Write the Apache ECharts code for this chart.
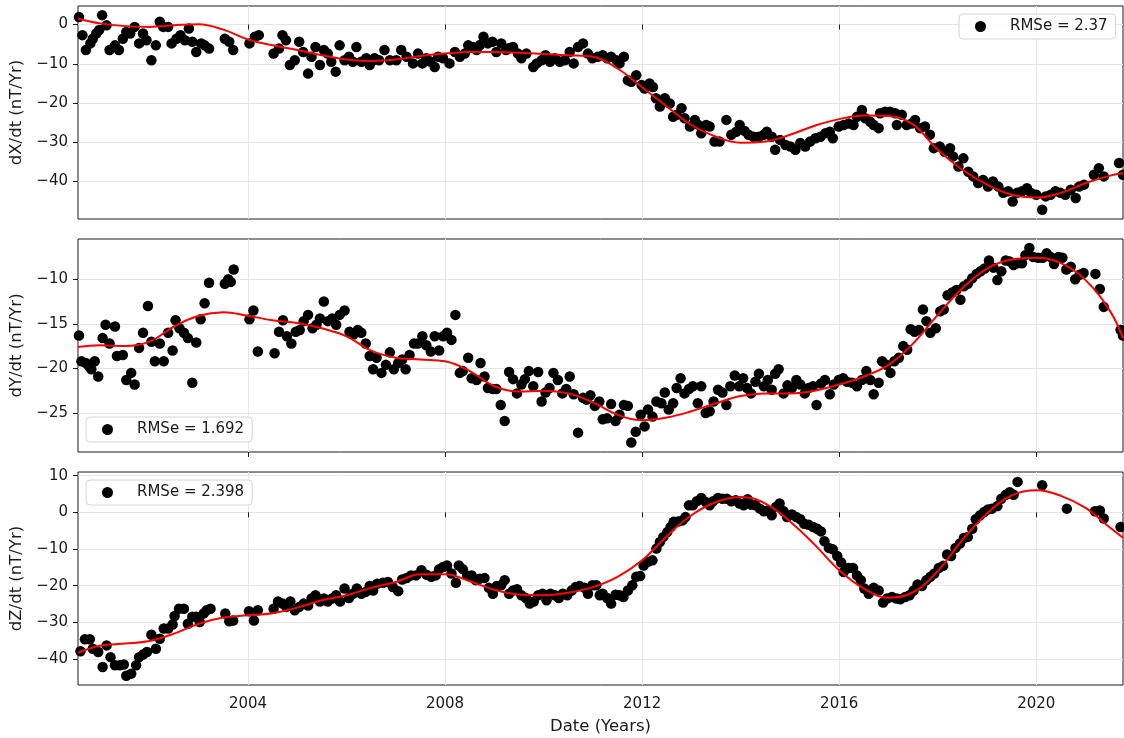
<!DOCTYPE html>
<html>
<head>
<meta charset="utf-8">
<title>Secular variation: dX/dt, dY/dt, dZ/dt</title>
<script src="https://cdn.jsdelivr.net/npm/echarts@6.0.0/dist/echarts.min.js"></script>
<style>
  html, body { margin: 0; padding: 0; background: #ffffff; }
  #chart { width: 1124px; height: 738px; }
</style>
</head>
<body>
<div id="chart"></div>
<script>
// ---- observed secular variation, dX/dt (nT/yr) ----
const dxYears = [
  2000.57, 2000.64, 2000.71, 2000.80, 2000.85, 2000.92, 2000.98, 2001.04, 2001.13, 2001.19,
  2001.30, 2001.38, 2001.46, 2001.53, 2001.61, 2001.70, 2001.79, 2001.87, 2001.94, 2002.04,
  2002.13, 2002.21, 2002.28, 2002.38, 2002.45, 2002.55, 2002.63, 2002.72, 2002.80, 2002.87,
  2002.95, 2003.05, 2003.12, 2003.21, 2003.53, 2003.62, 2003.70, 2004.03, 2004.14, 2004.22,
  2004.52, 2004.63, 2004.70, 2004.77, 2004.85, 2004.95, 2005.04, 2005.12, 2005.22, 2005.29,
  2005.37, 2005.46, 2005.54, 2005.62, 2005.69, 2005.78, 2005.86, 2005.96, 2006.05, 2006.13,
  2006.20, 2006.30, 2006.40, 2006.47, 2006.54, 2006.57, 2006.66, 2006.77, 2006.88, 2007.01,
  2007.11, 2007.22, 2007.35, 2007.45, 2007.54, 2007.62, 2007.70, 2007.79, 2007.86, 2007.96,
  2008.09, 2008.20, 2008.30, 2008.40, 2008.47, 2008.57, 2008.64, 2008.71, 2008.78, 2008.87,
  2008.96, 2009.04, 2009.14, 2009.24, 2009.31, 2009.38, 2009.48, 2009.55, 2009.65, 2009.79,
  2009.86, 2009.96, 2010.04, 2010.13, 2010.23, 2010.33, 2010.43, 2010.53, 2010.61, 2010.70,
  2010.80, 2010.90, 2010.99, 2011.10, 2011.20, 2011.29, 2011.37, 2011.48, 2011.54, 2011.63,
  2011.71, 2011.78, 2011.88, 2011.99, 2012.05, 2012.15, 2012.22, 2012.28, 2012.36, 2012.46,
  2012.56, 2012.63, 2012.70, 2012.80, 2012.86, 2012.97, 2013.07, 2013.13, 2013.20, 2013.30,
  2013.37, 2013.47, 2013.57, 2013.71, 2013.81, 2013.91, 2013.98, 2014.08, 2014.16, 2014.26,
  2014.37, 2014.47, 2014.53, 2014.63, 2014.70, 2014.80, 2014.91, 2015.01, 2015.11, 2015.21,
  2015.31, 2015.41, 2015.52, 2015.62, 2015.72, 2015.81, 2015.87, 2015.99, 2016.09, 2016.19,
  2016.29, 2016.36, 2016.46, 2016.53, 2016.63, 2016.70, 2016.80, 2016.83, 2016.93, 2017.03,
  2017.14, 2017.17, 2017.27, 2017.37, 2017.47, 2017.54, 2017.64, 2017.74, 2017.84, 2017.92,
  2018.04, 2018.14, 2018.25, 2018.31, 2018.42, 2018.52, 2018.62, 2018.72, 2018.82, 2018.92,
  2019.02, 2019.12, 2019.23, 2019.33, 2019.43, 2019.52, 2019.61, 2019.71, 2019.81, 2019.89,
  2020.00, 2020.12, 2020.19, 2020.29, 2020.39, 2020.49, 2020.59, 2020.70, 2020.80, 2020.87,
  2020.97, 2021.17, 2021.27, 2021.37, 2021.68, 2021.76
];
const dxValues = [
  1.9, -2.7, -6.5, -4.8, -3.6, -2.3, -1.4, 2.4, -0.2, -6.5,
  -5.3, -6.5, -3.6, -1.9, -2.3, -0.6, -4.8, -2.3, -4.0, -9.1,
  -5.3, 0.7, -0.6, -0.6, -4.8, -3.6, -2.7, -4.0, -1.0, -4.4,
  -7.0, -4.8, -5.3, -6.1, -3.6, -4.4, -6.5, -4.8, -3.1, -2.7,
  -7.4, -6.1, -2.7, -4.0, -10.3, -9.1, -4.4, -7.0, -12.5, -8.2,
  -5.7, -10.3, -6.5, -7.4, -9.5, -12.0, -5.3, -9.1, -8.2, -9.5,
  -5.7, -9.5, -8.6, -10.3, -9.1, -8.6, -9.1, -6.5, -9.1, -9.1,
  -6.5, -8.2, -9.9, -7.4, -9.9, -8.6, -9.4, -10.8, -8.2, -8.6,
  -9.9, -7.0, -8.2, -7.4, -5.3, -5.7, -6.5, -5.2, -3.1, -4.8,
  -4.4, -7.0, -4.8, -6.5, -6.0, -5.7, -7.4, -8.6, -7.4, -10.8,
  -9.9, -9.1, -7.8, -9.5, -8.6, -9.5, -9.1, -7.0, -9.9, -5.7,
  -4.8, -7.4, -8.6, -8.2, -7.8, -8.6, -8.2, -9.1, -9.9, -8.2,
  -14.2, -14.6, -12.9, -15.4, -16.3, -15.0, -15.9, -18.8, -20.9, -18.8,
  -20.1, -23.5, -23.0, -21.3, -23.9, -26.0, -24.3, -25.5, -27.7, -25.6,
  -26.0, -29.8, -29.8, -24.3, -28.1, -27.3, -25.6, -27.1, -28.1, -28.6,
  -28.6, -28.1, -27.3, -28.6, -31.9, -29.4, -30.7, -31.1, -31.9, -30.2,
  -31.1, -29.8, -29.0, -28.6, -27.7, -27.3, -29.0, -26.0, -25.6, -25.2,
  -25.6, -23.5, -21.8, -23.9, -24.8, -25.6, -26.4, -22.6, -22.2, -22.2,
  -22.6, -25.6, -23.0, -25.6, -25.2, -24.3, -26.4, -26.0, -28.1, -31.5,
  -31.1, -32.4, -31.5, -33.6, -36.2, -34.1, -37.5, -38.7, -40.4, -39.6,
  -41.3, -40.0, -41.3, -42.9, -42.5, -45.1, -42.9, -42.5, -41.7, -42.9,
  -43.4, -47.2, -43.8, -43.4, -42.5, -42.9, -43.4, -42.1, -44.2, -41.3,
  -40.8, -38.3, -36.6, -38.7, -35.3, -38.3
];

// ---- observed secular variation, dY/dt (nT/yr) ----
const dyYears = [
  2000.57, 2000.62, 2000.71, 2000.78, 2000.82, 2000.89, 2000.96, 2001.05, 2001.11, 2001.19,
  2001.30, 2001.34, 2001.46, 2001.53, 2001.63, 2001.70, 2001.79, 2001.87, 2001.97, 2002.04,
  2002.11, 2002.21, 2002.29, 2002.38, 2002.47, 2002.53, 2002.61, 2002.70, 2002.78, 2002.87,
  2002.95, 2003.04, 2003.12, 2003.21, 2003.53, 2003.60, 2003.65, 2003.71, 2004.03, 2004.11,
  2004.20, 2004.54, 2004.63, 2004.71, 2004.79, 2004.88, 2004.97, 2005.05, 2005.13, 2005.22,
  2005.31, 2005.39, 2005.46, 2005.54, 2005.62, 2005.71, 2005.79, 2005.86, 2005.96, 2006.06,
  2006.14, 2006.23, 2006.30, 2006.39, 2006.47, 2006.54, 2006.61, 2006.71, 2006.80, 2006.88,
  2006.96, 2007.05, 2007.13, 2007.20, 2007.28, 2007.37, 2007.45, 2007.54, 2007.62, 2007.71,
  2007.79, 2007.88, 2007.96, 2008.04, 2008.13, 2008.21, 2008.30, 2008.36, 2008.47, 2008.54,
  2008.64, 2008.72, 2008.80, 2008.87, 2008.97, 2009.04, 2009.13, 2009.21, 2009.30, 2009.38,
  2009.46, 2009.55, 2009.62, 2009.70, 2009.79, 2009.89, 2009.96, 2010.04, 2010.12, 2010.20,
  2010.29, 2010.38, 2010.46, 2010.53, 2010.61, 2010.70, 2010.80, 2010.87, 2010.95, 2011.04,
  2011.13, 2011.20, 2011.29, 2011.37, 2011.46, 2011.54, 2011.63, 2011.71, 2011.78, 2011.87,
  2011.97, 2012.05, 2012.12, 2012.21, 2012.29, 2012.39, 2012.46, 2012.54, 2012.63, 2012.70,
  2012.78, 2012.86, 2012.95, 2013.03, 2013.13, 2013.20, 2013.29, 2013.37, 2013.45, 2013.54,
  2013.63, 2013.71, 2013.79, 2013.88, 2013.97, 2014.05, 2014.13, 2014.21, 2014.30, 2014.37,
  2014.47, 2014.55, 2014.63, 2014.70, 2014.77, 2014.87, 2014.95, 2015.04, 2015.13, 2015.21,
  2015.30, 2015.38, 2015.47, 2015.54, 2015.63, 2015.71, 2015.81, 2015.89, 2015.99, 2016.08,
  2016.16, 2016.26, 2016.36, 2016.46, 2016.55, 2016.63, 2016.70, 2016.80, 2016.87, 2016.96,
  2017.04, 2017.12, 2017.21, 2017.30, 2017.38, 2017.45, 2017.53, 2017.62, 2017.70, 2017.77,
  2017.85, 2017.96, 2018.05, 2018.12, 2018.20, 2018.29, 2018.38, 2018.46, 2018.53, 2018.61,
  2018.70, 2018.79, 2018.87, 2018.95, 2019.04, 2019.13, 2019.21, 2019.29, 2019.38, 2019.46,
  2019.54, 2019.62, 2019.71, 2019.78, 2019.86, 2019.94, 2020.04, 2020.13, 2020.21, 2020.29,
  2020.36, 2020.45, 2020.53, 2020.61, 2020.70, 2020.79, 2020.88, 2020.96, 2021.20, 2021.29,
  2021.37, 2021.71, 2021.76
];
const dyValues = [
  -16.3, -19.2, -19.4, -19.8, -20.1, -19.2, -20.9, -16.6, -15.1, -17.2,
  -15.3, -18.6, -18.5, -21.3, -20.5, -21.8, -17.7, -16.0, -13.0, -17.0,
  -19.2, -17.2, -19.2, -16.0, -18.0, -14.6, -15.5, -16.0, -16.6, -21.6,
  -17.1, -14.5, -12.7, -10.4, -10.5, -10.0, -10.3, -8.9, -14.5, -13.5,
  -18.1, -18.3, -15.9, -14.6, -16.4, -17.2, -15.9, -15.7, -14.7, -14.0,
  -15.5, -15.1, -14.4, -12.5, -14.7, -14.4, -15.1, -14.0, -13.5, -15.9,
  -16.2, -15.7, -16.0, -17.2, -18.6, -20.1, -18.8, -20.5, -19.6, -18.2,
  -20.1, -19.4, -19.0, -20.1, -18.5, -17.2, -17.2, -16.4, -17.4, -18.1,
  -16.4, -18.0, -16.4, -16.0, -16.8, -14.0, -20.5, -20.3, -18.8, -21.1,
  -21.3, -19.4, -20.9, -22.2, -22.3, -22.3, -24.1, -25.9, -20.4, -21.2,
  -22.8, -21.8, -21.2, -20.3, -22.0, -20.4, -23.7, -22.7, -22.2, -20.5,
  -21.3, -22.8, -22.3, -20.9, -22.9, -27.2, -23.3, -23.5, -23.0, -24.2,
  -23.7, -25.7, -25.6, -24.0, -25.9, -25.2, -24.1, -24.2, -28.3, -27.1,
  -25.2, -26.5, -24.6, -25.4, -23.7, -23.9, -22.7, -24.6, -23.9, -22.2,
  -21.1, -22.8, -22.3, -22.0, -23.9, -22.0, -25.0, -24.8, -23.7, -22.4,
  -22.7, -24.1, -22.0, -20.8, -22.0, -21.1, -22.2, -22.8, -21.5, -20.6,
  -22.0, -21.3, -22.4, -20.6, -20.1, -22.8, -21.9, -22.2, -21.3, -21.8,
  -22.8, -22.2, -22.0, -24.1, -21.7, -21.3, -22.9, -21.8, -21.3, -21.1,
  -21.5, -21.6, -22.0, -21.3, -20.3, -21.3, -22.9, -21.6, -19.2, -19.6,
  -20.5, -19.2, -18.8, -17.5, -17.9, -15.6, -15.9, -15.7, -13.4, -14.7,
  -16.0, -15.5, -13.6, -13.4, -11.8, -11.5, -11.2, -12.3, -10.8, -10.5,
  -9.9, -9.4, -9.1, -8.8, -7.9, -8.7, -10.1, -9.1, -7.9, -8.0,
  -8.4, -8.2, -8.2, -7.3, -6.5, -7.5, -7.6, -7.6, -7.1, -7.5,
  -8.3, -7.5, -7.6, -8.9, -8.6, -10.0, -9.5, -9.3, -9.4, -11.1,
  -13.1, -15.7, -16.3
];

// ---- observed secular variation, dZ/dt (nT/yr) ----
const dzYears = [
  2000.60, 2000.69, 2000.79, 2000.85, 2000.96, 2001.05, 2001.13, 2001.21, 2001.30, 2001.40,
  2001.48, 2001.53, 2001.63, 2001.73, 2001.79, 2001.87, 2001.95, 2002.04, 2002.13, 2002.21,
  2002.29, 2002.38, 2002.47, 2002.51, 2002.60, 2002.70, 2002.78, 2002.87, 2002.95, 2003.02,
  2003.10, 2003.16, 2003.24, 2003.54, 2003.62, 2003.70, 2004.02, 2004.12, 2004.20, 2004.52,
  2004.61, 2004.70, 2004.78, 2004.86, 2004.95, 2005.04, 2005.13, 2005.22, 2005.29, 2005.37,
  2005.46, 2005.54, 2005.62, 2005.71, 2005.79, 2005.87, 2005.96, 2006.05, 2006.13, 2006.21,
  2006.30, 2006.39, 2006.47, 2006.54, 2006.62, 2006.74, 2006.84, 2006.94, 2007.05, 2007.13,
  2007.22, 2007.31, 2007.41, 2007.52, 2007.62, 2007.72, 2007.81, 2007.88, 2007.96, 2008.04,
  2008.13, 2008.22, 2008.28, 2008.36, 2008.45, 2008.54, 2008.62, 2008.70, 2008.80, 2008.89,
  2008.97, 2009.05, 2009.14, 2009.21, 2009.30, 2009.38, 2009.46, 2009.55, 2009.64, 2009.72,
  2009.80, 2009.89, 2009.98, 2010.06, 2010.14, 2010.23, 2010.31, 2010.39, 2010.48, 2010.57,
  2010.65, 2010.73, 2010.83, 2010.90, 2010.99, 2011.07, 2011.14, 2011.20, 2011.29, 2011.37,
  2011.46, 2011.54, 2011.62, 2011.71, 2011.80, 2011.88, 2011.96, 2012.03, 2012.12, 2012.21,
  2012.29, 2012.36, 2012.43, 2012.51, 2012.58, 2012.64, 2012.73, 2012.82, 2012.88, 2012.95,
  2013.03, 2013.11, 2013.20, 2013.29, 2013.37, 2013.44, 2013.54, 2013.63, 2013.72, 2013.81,
  2013.90, 2013.98, 2014.06, 2014.14, 2014.21, 2014.30, 2014.39, 2014.47, 2014.55, 2014.63,
  2014.72, 2014.79, 2014.87, 2014.94, 2015.04, 2015.13, 2015.21, 2015.29, 2015.38, 2015.47,
  2015.55, 2015.63, 2015.70, 2015.79, 2015.87, 2015.96, 2016.04, 2016.09, 2016.19, 2016.28,
  2016.36, 2016.44, 2016.51, 2016.60, 2016.70, 2016.80, 2016.89, 2016.97, 2017.07, 2017.16,
  2017.24, 2017.34, 2017.43, 2017.51, 2017.59, 2017.68, 2017.77, 2017.85, 2017.93, 2018.02,
  2018.11, 2018.19, 2018.27, 2018.36, 2018.45, 2018.53, 2018.61, 2018.70, 2018.77, 2018.86,
  2018.94, 2019.02, 2019.10, 2019.21, 2019.29, 2019.38, 2019.46, 2019.54, 2019.62, 2020.12,
  2020.62, 2021.19, 2021.29, 2021.37, 2021.71
];
const dzValues = [
  -37.9, -34.6, -34.6, -37.2, -38.1, -42.2, -36.3, -39.5, -41.7, -41.7,
  -41.5, -44.6, -44.0, -41.7, -39.5, -38.8, -38.1, -33.4, -37.2, -34.5,
  -31.7, -31.7, -30.6, -28.3, -26.3, -26.3, -30.4, -28.5, -28.5, -29.9,
  -27.6, -26.7, -26.3, -27.6, -29.7, -29.5, -27.0, -29.5, -26.7, -26.3,
  -24.3, -24.9, -25.8, -24.3, -26.7, -25.8, -24.9, -25.4, -23.5, -22.6,
  -24.3, -23.5, -24.3, -23.5, -22.6, -24.3, -20.8, -23.4, -22.2, -20.8,
  -22.2, -21.7, -20.1, -21.3, -19.5, -19.2, -19.0, -20.4, -21.5, -18.3,
  -17.9, -17.2, -17.2, -15.8, -17.0, -17.6, -17.2, -15.5, -14.9, -14.5,
  -16.7, -19.2, -14.5, -15.5, -17.2, -17.2, -18.5, -18.1, -17.9, -20.6,
  -22.2, -20.1, -19.9, -18.5, -22.2, -21.3, -21.0, -22.6, -23.4, -24.9,
  -24.3, -22.6, -22.2, -24.0, -22.2, -22.6, -23.4, -22.2, -22.6, -21.3,
  -20.4, -20.1, -20.6, -22.2, -19.9, -19.9, -22.6, -22.2, -23.4, -24.9,
  -22.5, -22.6, -23.1, -21.3, -19.9, -17.6, -17.4, -14.5, -13.5, -13.1,
  -9.9, -8.1, -6.7, -5.4, -4.0, -2.6, -2.5, -2.2, -1.3, 1.9,
  1.9, 3.0, 3.9, 2.8, 1.9, 3.0, 3.9, 3.7, 3.7, 3.0,
  3.3, 2.4, 1.9, 3.6, 2.1, 1.9, 1.0, 0.3, 0.5, -0.8,
  1.5, 2.4, 0.3, -1.3, -0.6, -1.3, -1.9, -3.1, -3.4, -4.0,
  -4.5, -5.2, -7.9, -9.7, -10.1, -11.9, -13.7, -16.3, -15.2, -15.2,
  -17.2, -18.5, -20.8, -22.2, -20.6, -21.3, -24.6, -23.5, -23.1, -23.5,
  -23.7, -23.1, -22.6, -21.3, -19.7, -20.1, -18.5, -17.6, -16.7, -15.2,
  -14.6, -11.5, -11.9, -9.7, -8.5, -7.0, -6.7, -4.5, -1.9, -0.8,
  0.1, 0.8, 1.0, 1.7, 3.7, 4.8, 5.5, 4.8, 8.3, 7.4,
  1.0, 0.3, 0.5, -1.7, -4.0
];

// ---- model fit, sampled every half year ----
const fitYears = [
  2000.55, 2001.0, 2001.5, 2002.0, 2002.5, 2003.0, 2003.5, 2004.0, 2004.5, 2005.0,
  2005.5, 2006.0, 2006.5, 2007.0, 2007.5, 2008.0, 2008.5, 2009.0, 2009.5, 2010.0,
  2010.5, 2011.0, 2011.5, 2012.0, 2012.5, 2013.0, 2013.5, 2014.0, 2014.5, 2015.0,
  2015.5, 2016.0, 2016.5, 2017.0, 2017.5, 2018.0, 2018.5, 2019.0, 2019.5, 2020.0,
  2020.5, 2021.0, 2021.5, 2021.76
];
const dxFit = [
  1.5, 0.3, -0.4, -0.6, -0.2, 0.1, -1.3, -3.8, -5.3, -6.5,
  -7.8, -8.9, -9.3, -8.9, -8.0, -7.4, -7.0, -7.0, -7.2, -7.5,
  -7.8, -8.2, -11.2, -16.0, -20.9, -25.6, -28.6, -30.1, -29.8, -28.1,
  -25.8, -24.1, -23.2, -23.3, -25.5, -31.9, -37.0, -40.8, -43.4, -44.1,
  -42.9, -40.4, -38.5, -37.9
];
const dyFit = [
  -17.6, -17.4, -17.5, -17.0, -15.3, -14.1, -13.7, -14.1, -14.6, -14.9,
  -15.5, -16.4, -18.0, -18.8, -19.0, -19.2, -20.3, -22.0, -22.6, -22.5,
  -22.8, -23.8, -25.2, -25.8, -25.5, -24.8, -23.9, -23.1, -22.8, -22.8,
  -22.5, -21.8, -20.9, -19.6, -17.2, -14.0, -11.0, -8.8, -7.8, -7.6,
  -8.2, -10.1, -13.6, -16.6
];
const dzFit = [
  -38.3, -36.4, -35.8, -35.1, -33.1, -30.4, -28.7, -28.1, -27.5, -26.0,
  -24.0, -22.6, -20.6, -19.0, -16.9, -16.9, -18.8, -21.1, -22.4, -22.6,
  -21.9, -20.4, -17.6, -13.1, -6.5, -0.8, 2.8, 4.2, 2.4, -2.5,
  -8.8, -15.8, -20.8, -23.3, -21.8, -16.0, -7.5, -0.3, 4.6, 6.0,
  4.5, 1.2, -4.2, -6.9
];

// ---- axis settings ----
const yearTicks = [2004, 2008, 2012, 2016, 2020];
const xRange = [2000.55, 2021.76];
const panelNames = ['dX/dt (nT/Yr)', 'dY/dt (nT/Yr)', 'dZ/dt (nT/Yr)'];
const panelTicks = [[-40, -30, -20, -10, 0], [-25, -20, -15, -10], [-40, -30, -20, -10, 0, 10]];
const panelRanges = [[-49.56, 4.73], [-29.37, -5.49], [-47.1, 11.0]];
const rmseLabels = ['RMSe = 2.37', 'RMSe = 1.692', 'RMSe = 2.398'];

const zip = (xs, ys) => xs.map((x, i) => [x, ys[i]]);
const obs = [zip(dxYears, dxValues), zip(dyYears, dyValues), zip(dzYears, dzValues)];
const fits = [zip(fitYears, dxFit), zip(fitYears, dyFit), zip(fitYears, dzFit)];

const FONT = 'DejaVu Sans';
const INK = '#1a1a1a';
const GRIDLINE = '#e6e6e6';
const minus = v => String(v).replace('-', '\u2212');

const gridTops = [6, 239, 472];
const legendPos = [
  { left: 959, top: 14 },
  { left: 86, top: 417 },
  { left: 86, top: 480 }
];

const chart = echarts.init(document.getElementById('chart'), null, { renderer: 'canvas' });

const option = {
  animation: false,
  textStyle: { fontFamily: FONT },
  grid: gridTops.map(t => ({
    left: 78, right: 1, top: t, height: 213,
    show: true, borderColor: INK, borderWidth: 1, backgroundColor: 'transparent'
  })),
  legend: rmseLabels.map((name, i) => ({
    data: [name],
    left: legendPos[i].left,
    top: legendPos[i].top,
    icon: 'circle',
    itemWidth: 11,
    itemHeight: 11,
    selectedMode: false,
    padding: [5, 8, 5, 16],
    backgroundColor: 'rgba(255,255,255,0.85)',
    borderColor: '#d4d4d4',
    borderWidth: 1,
    borderRadius: 4,
    textStyle: { fontFamily: FONT, fontSize: 15, color: INK, padding: [0, 0, 0, 19] }
  })),
  xAxis: [0, 1, 2].map(i => ({
    type: 'value',
    gridIndex: i,
    min: xRange[0],
    max: xRange[1],
    axisLine: { show: false },
    axisTick: { show: true, customValues: yearTicks, length: 5, lineStyle: { color: INK, width: 1 } },
    axisLabel: {
      show: i === 2, customValues: yearTicks, margin: 12,
      fontFamily: FONT, fontSize: 15, color: INK,
      formatter: v => String(v)
    },
    splitLine: { show: true, lineStyle: { color: GRIDLINE, width: 1 } },
    name: i === 2 ? 'Date (Years)' : '',
    nameLocation: 'middle',
    nameGap: 33,
    nameTextStyle: { fontFamily: FONT, fontSize: 16.5, color: INK }
  })),
  yAxis: [0, 1, 2].map(i => ({
    type: 'value',
    gridIndex: i,
    min: panelRanges[i][0],
    max: panelRanges[i][1],
    axisLine: { show: false },
    axisTick: { show: true, customValues: panelTicks[i], length: 5, lineStyle: { color: INK, width: 1 } },
    axisLabel: {
      customValues: panelTicks[i], margin: 10,
      fontFamily: FONT, fontSize: 15, color: INK,
      formatter: minus
    },
    splitLine: { show: true, lineStyle: { color: GRIDLINE, width: 1 } },
    name: panelNames[i],
    nameLocation: 'middle',
    nameGap: 48,
    nameTextStyle: { fontFamily: FONT, fontSize: 16.5, color: INK }
  })),
  series: [
    ...[0, 1, 2].map(i => ({
      name: rmseLabels[i],
      type: 'scatter',
      xAxisIndex: i,
      yAxisIndex: i,
      data: obs[i],
      symbol: 'circle',
      symbolSize: 10.5,
      itemStyle: { color: '#000000', opacity: 1 },
      clip: true,
      silent: true,
      z: 2
    })),
    ...[0, 1, 2].map(i => ({
      name: 'fit' + i,
      type: 'line',
      xAxisIndex: i,
      yAxisIndex: i,
      data: fits[i],
      smooth: 0.4,
      showSymbol: false,
      lineStyle: { color: '#ff0000', width: 2 },
      clip: true,
      silent: true,
      z: 3
    }))
  ]
};

chart.setOption(option);
</script>
</body>
</html>
